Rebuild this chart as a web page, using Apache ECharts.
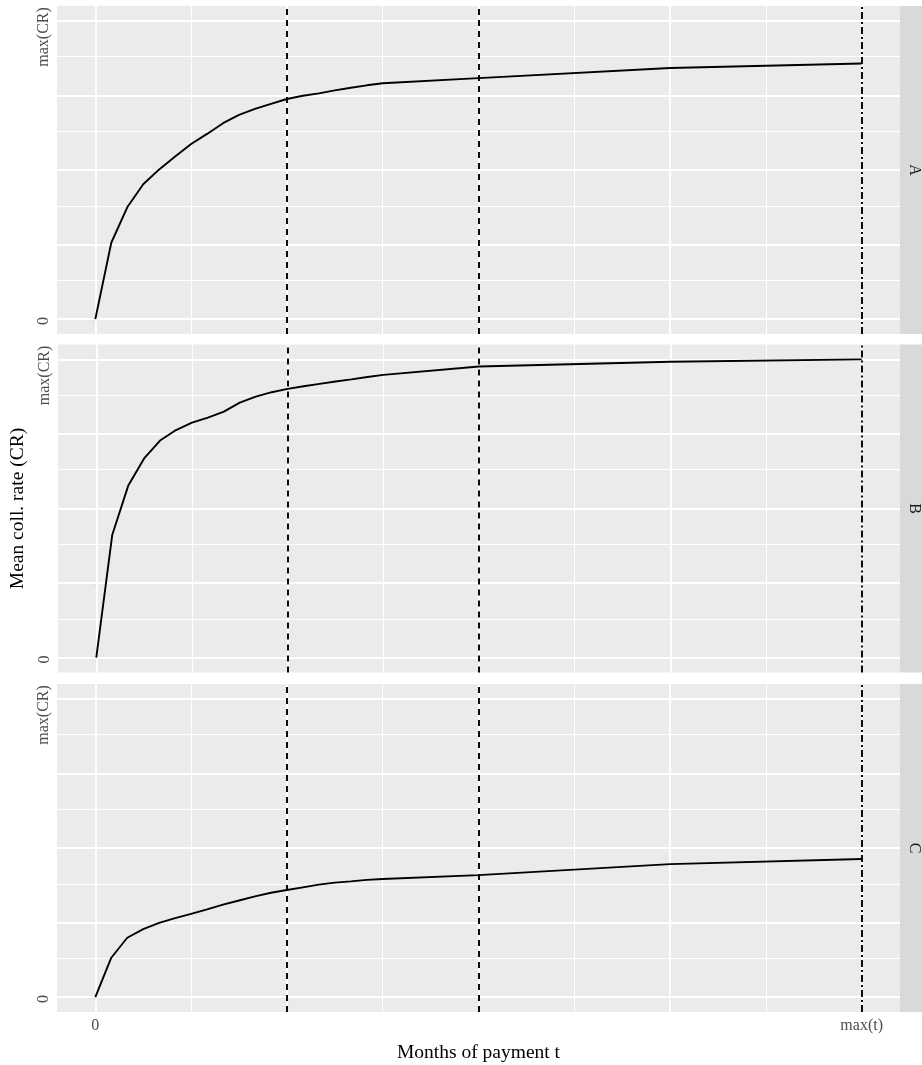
<!DOCTYPE html>
<html>
<head>
<meta charset="utf-8">
<script src="https://cdn.jsdelivr.net/npm/echarts@6/dist/echarts.min.js"></script>
<style>
html,body{margin:0;padding:0;background:#fff;}
#chart{width:922px;height:1065px;}
</style>
</head>
<body>
<div id="chart"></div>
<script>
// ---- data ----
const months = [0,1,2,3,4,5,6,7,8,9,10,11,12,13,14,15,16,17,18,24,36,48];
const crA = [0,0.256,0.375,0.452,0.502,0.545,0.587,0.621,0.657,0.685,0.705,0.722,0.738,0.749,0.757,0.767,0.776,0.784,0.791,0.808,0.842,0.857];
const crB = [0,0.411,0.576,0.668,0.728,0.763,0.788,0.805,0.825,0.855,0.875,0.890,0.901,0.910,0.918,0.926,0.933,0.941,0.948,0.976,0.992,1.0];
const crC = [0,0.132,0.199,0.228,0.249,0.265,0.279,0.294,0.310,0.324,0.338,0.350,0.359,0.368,0.377,0.384,0.388,0.393,0.396,0.409,0.446,0.463];
const facets = ['A','B','C'];
const xMajor = [0,12,24,36,48];
const xMinor = [6,18,30,42];
const yMajor = [0,0.25,0.5,0.75,1];
const yMinor = [0.125,0.375,0.625,0.875];
const xLabelValues = [0,48];
const xLabelTexts = ['0','max(t)'];
const yLabelValues = [0,1];
const yLabelTexts = ['0','max(CR)'];
const dashedAt = [12,24];
const dotDashAt = 48;
const xTitle = 'Months of payment t';
const yTitle = 'Mean coll. rate (CR)';

// ---- layout ----
const FONT = 'Liberation Serif';
const panelLeft = 57, panelWidth = 843, panelHeight = 328;
const panelTops = [6, 344.5, 684];
const xMin = -2.4, xMax = 50.4, yMin = -0.05, yMax = 1.05;

const seriesData = [crA, crB, crC];

const grids = [], xAxes = [], yAxes = [], series = [], graphics = [];

panelTops.forEach((top, i) => {
  grids.push({left: panelLeft, top: top, width: panelWidth, height: panelHeight,
    show: true, backgroundColor: '#EBEBEB', borderWidth: 0, containLabel: false});
  const bottom = i === panelTops.length - 1;
  xAxes.push({
    type: 'value', gridIndex: i, min: xMin, max: xMax,
    axisLine: {show: false}, splitLine: {show: false},
    axisTick: {show: bottom, customValues: xMajor, length: 4, lineStyle: {color: '#333333', width: 1.1}},
    axisLabel: {show: bottom, customValues: xLabelValues, margin: 6,
      fontFamily: FONT, fontSize: 16, color: '#4D4D4D',
      formatter: v => { const k = xLabelValues.indexOf(v); return k >= 0 ? xLabelTexts[k] : ''; }},
    name: bottom ? xTitle : '', nameLocation: 'middle', nameGap: 31,
    nameTextStyle: {fontFamily: FONT, fontSize: 19.5, color: '#000'}
  });
  yAxes.push({
    type: 'value', gridIndex: i, min: yMin, max: yMax,
    axisLine: {show: false}, splitLine: {show: false},
    axisTick: {show: true, customValues: yMajor, length: 4, lineStyle: {color: '#333333', width: 1.1}},
    axisLabel: {show: true, customValues: yLabelValues, rotate: 90, margin: 5,
      fontFamily: FONT, fontSize: 16, color: '#4D4D4D',
      formatter: v => v === 1 ? '{m|' + yLabelTexts[1] + '}' : (v === 0 ? '{z|' + yLabelTexts[0] + '}' : ''),
      rich: {
        m: {fontFamily: FONT, fontSize: 16, color: '#4D4D4D', padding: [0, 32, 0, 0]},
        z: {fontFamily: FONT, fontSize: 16, color: '#4D4D4D', padding: [0, 4, 0, 0]}
      }},
    name: i === 1 ? yTitle : '', nameLocation: 'middle', nameGap: 30,
    nameTextStyle: {fontFamily: FONT, fontSize: 19.5, color: '#000'}
  });

  // grid lines (below the curve)
  const gl = [];
  xMinor.forEach(v => gl.push({xAxis: v, lineStyle: {color: '#FFFFFF', width: 1, type: 'solid'}}));
  yMinor.forEach(v => gl.push({yAxis: v, lineStyle: {color: '#FFFFFF', width: 1, type: 'solid'}}));
  xMajor.forEach(v => gl.push({xAxis: v, lineStyle: {color: '#FFFFFF', width: 1.9, type: 'solid'}}));
  yMajor.forEach(v => gl.push({yAxis: v, lineStyle: {color: '#FFFFFF', width: 1.9, type: 'solid'}}));
  series.push({
    type: 'line', xAxisIndex: i, yAxisIndex: i, data: [], z: 1, silent: true,
    markLine: {z: 1, zlevel: 0, silent: true, symbol: ['none','none'], label: {show: false}, animation: false, data: gl}
  });

  // curve
  series.push({
    type: 'line', xAxisIndex: i, yAxisIndex: i, z: 3, silent: true,
    data: months.map((m, k) => [m, seriesData[i][k]]),
    showSymbol: false, symbol: 'none',
    lineStyle: {color: '#000', width: 1.9}, animation: false
  });

  // reference lines (above the curve)
  const rl = [];
  dashedAt.forEach(v => rl.push({xAxis: v, lineStyle: {color: '#000', width: 1.9, type: [6, 5]}}));
  rl.push({xAxis: dotDashAt, lineStyle: {color: '#000', width: 1.9, type: [7, 3, 2, 3]}});
  series.push({
    type: 'line', xAxisIndex: i, yAxisIndex: i, data: [], z: 4, silent: true,
    markLine: {z: 5, silent: true, symbol: ['none','none'], label: {show: false}, animation: false, data: rl}
  });

  // strip
  graphics.push({type: 'rect', shape: {x: 900, y: top, width: 30, height: panelHeight},
    style: {fill: '#D9D9D9'}, silent: true});
  graphics.push({type: 'text', x: 914, y: top + panelHeight / 2, rotation: -Math.PI / 2,
    style: {text: facets[i], fontFamily: FONT, fontSize: 16, fill: '#1A1A1A',
      textAlign: 'center', textVerticalAlign: 'middle'}, silent: true});
});

const chart = echarts.init(document.getElementById('chart'), null, {renderer: 'canvas'});
chart.setOption({
  animation: false,
  backgroundColor: '#FFFFFF',
  grid: grids, xAxis: xAxes, yAxis: yAxes, series: series,
  graphic: graphics
});
</script>
</body>
</html>
